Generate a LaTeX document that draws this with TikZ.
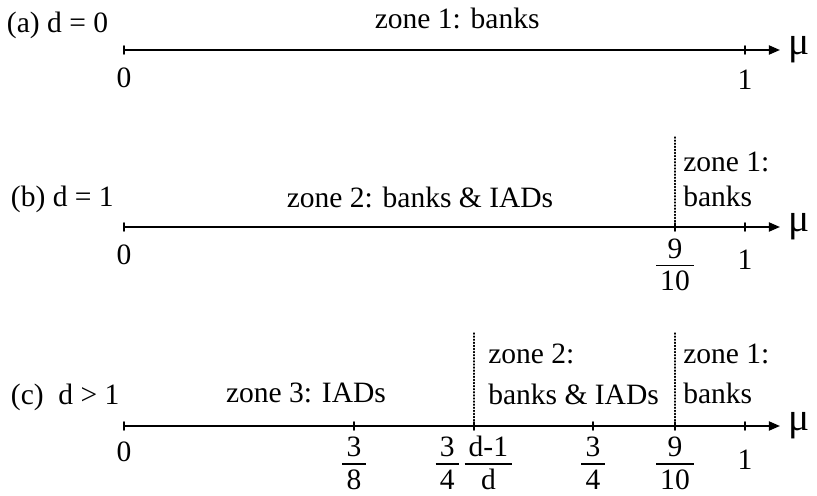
\documentclass[tikz,border=0pt]{standalone}
\usepackage{fontspec}
\setmainfont{Liberation Serif}
\usetikzlibrary{arrows.meta,positioning}
\setlength{\arrayrulewidth}{1pt}
\newcommand{\zfrac}[2]{\raisebox{0pt}[\height][\dimexpr\depth-6pt\relax]{\begin{tabular}{@{\hspace{3pt}}c@{\hspace{3pt}}}#1\\[-3pt]\hline\rule{0pt}{15.5pt}#2\end{tabular}}}

\begin{document}
\begin{tikzpicture}[line cap=round,line join=round,
  font=\fontsize{21}{25}\selectfont,
  axis/.style={line width=1.4pt,-{Triangle[length=8pt,width=6.5pt]}},
  tick/.style={line width=1.4pt},
  sep/.style={line width=0.8pt,dash pattern=on 0.8pt off 1.4pt},
  ticklab/.style={inner sep=0pt},
  zone/.style={inner sep=0pt,align=left,anchor=west},
  mu/.style={inner sep=0pt,font=\fontsize{28}{30}\selectfont}]
  \useasboundingbox (0,0) rectangle (20.425,12.375);
  % (a) d = 0
  \coordinate (a0) at (3.1,11.125);
  \coordinate (a1) at (18.625,11.125);
  \coordinate (aend) at (19.5,11.125);
  \draw[axis] (a0) -- (aend);
  \draw[tick] (a0) ++(0,0.1) -- ++(0,-0.2);
  \draw[tick] (a1) ++(0,0.1) -- ++(0,-0.2);
  \node[anchor=west] (alab) at (0.05,11.75) {(a) d = 0};
  \node (azone1) at (11.43,11.925) {zone 1: banks};
  \node[ticklab,below=0.45cm of a0] (a0lab) {0};
  \node[ticklab,below=0.5cm of a1] (a1lab) {1};
  \node[mu,right=0.2cm of aend] (amu) {μ};
  % (b) d = 1
  \coordinate (b0) at (3.1,6.7);
  \coordinate (b910) at (16.875,6.7);
  \coordinate (b1) at (18.625,6.7);
  \coordinate (bend) at (19.5,6.7);
  \coordinate (b910top) at (16.875,8.95);
  \draw[axis] (b0) -- (bend);
  \draw[sep] (b910top) -- (b910);
  \foreach \t in {b0,b910,b1}
    \draw[tick] (\t) ++(0,0.1) -- ++(0,-0.2);
  \node[anchor=west] (blab) at (0.15,7.4) {(b) d = 1};
  \node (bzone2) at (10.5,7.45) {zone 2: banks \& IADs};
  \node[zone] (bzone1) at (17.075,7.89) {zone 1:\\banks};
  \node[ticklab,below=0.16cm of b910] (b910lab) {\zfrac{9}{10}};
  \node[ticklab,below=0.45cm of b0] (b0lab) {0};
  \node[ticklab,below=0.58cm of b1] (b1lab) {1};
  \node[mu,right=0.2cm of bend] (bmu) {μ};
  % (c) d > 1
  \coordinate (c0) at (3.1,1.725);
  \coordinate (c38) at (8.85,1.725);
  \coordinate (cd) at (11.85,1.725);
  \coordinate (c34) at (14.825,1.725);
  \coordinate (c910) at (16.875,1.725);
  \coordinate (c1) at (18.625,1.725);
  \coordinate (cend) at (19.5,1.725);
  \coordinate (cdtop) at (11.85,4.05);
  \coordinate (c910top) at (16.875,4.05);
  \draw[axis] (c0) -- (cend);
  \draw[sep] (cdtop) -- (cd);
  \draw[sep] (c910top) -- (c910);
  \foreach \t in {c0,c38,cd,c34,c910,c1}
    \draw[tick] (\t) ++(0,0.1) -- ++(0,-0.2);
  \node[anchor=west] (clab) at (0.15,2.45) {(c) \ d > 1};
  \node (czone3) at (7.65,2.55) {zone 3: IADs};
  \node[zone] (czone2) at (12.2,3.025) {zone 2:\\[4pt]banks \& IADs};
  \node[zone] (czone1) at (17.075,3.025) {zone 1:\\[4pt]banks};
  \node[ticklab,below=0.4cm of c0] (c0lab) {0};
  \node[ticklab,below=0.15cm of c38] (c38lab) {\zfrac{3}{8}};
  \node[ticklab,below=0.15cm of cd] (cdlab) {\zfrac{3}{4}\hspace{4pt}\zfrac{d-1}{d}};
  \node[ticklab,below=0.15cm of c34] (c34lab) {\zfrac{3}{4}};
  \node[ticklab,below=0.15cm of c910] (c910lab) {\zfrac{9}{10}};
  \node[ticklab,below=0.6cm of c1] (c1lab) {1};
  \node[mu,right=0.2cm of cend] (cmu) {μ};
\end{tikzpicture}
\end{document}
